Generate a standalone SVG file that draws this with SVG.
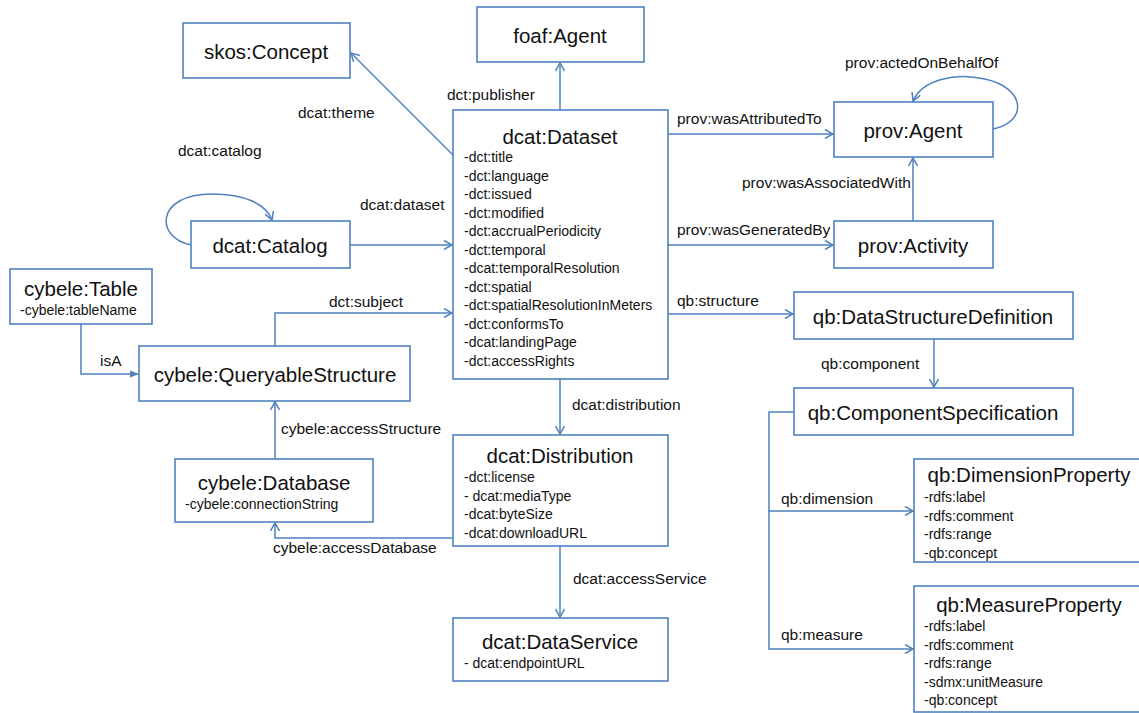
<svg xmlns="http://www.w3.org/2000/svg" width="1139" height="713" viewBox="0 0 1139 713">
<style>
.box{fill:#fff;stroke:#4F81BD;stroke-width:1.6}
.ln{fill:none;stroke:#4F81BD;stroke-width:1.5}
.t{font-family:"Liberation Sans",Arial,sans-serif;font-size:20.5px;fill:#111;text-anchor:middle;dominant-baseline:central}
.a{font-family:"Liberation Sans",Arial,sans-serif;font-size:14px;fill:#111;dominant-baseline:central}
.l{font-family:"Liberation Sans",Arial,sans-serif;font-size:15.5px;fill:#111;dominant-baseline:central}
</style>
<defs>
<marker id="open" viewBox="0 0 10 10" markerWidth="10" markerHeight="10" refX="9" refY="5" orient="auto" markerUnits="userSpaceOnUse">
<path d="M1,0.5 L9,5 L1,9.5" fill="none" stroke="#4F81BD" stroke-width="1.5"/>
</marker>
<marker id="filled" viewBox="0 0 10 10" markerWidth="9" markerHeight="9" refX="9" refY="5" orient="auto" markerUnits="userSpaceOnUse">
<path d="M0,1 L10,5 L0,9 Z" fill="#4F81BD"/>
</marker>
</defs>
<rect width="1139" height="713" fill="#fff"/>
<g id="connectors">
<path class="ln" d="M560,110 V63" marker-end="url(#open)"/>
<path class="ln" d="M453,155 L351,53" marker-end="url(#open)"/>
<path class="ln" d="M350,245 H452" marker-end="url(#open)"/>
<path class="ln" d="M191,245 C155,238 155,194 212,194 C245,194 266,204 272,220" marker-end="url(#open)"/>
<path class="ln" d="M668,134 H833" marker-end="url(#open)"/>
<path class="ln" d="M668,245 H833" marker-end="url(#open)"/>
<path class="ln" d="M913,221 V158" marker-end="url(#open)"/>
<path class="ln" d="M993,129 C1028,122 1026,88 985,79 C955,72 922,80 913,101" marker-end="url(#open)"/>
<path class="ln" d="M668,314 H793" marker-end="url(#open)"/>
<path class="ln" d="M934,339 V387" marker-end="url(#open)"/>
<path class="ln" d="M794,412 H769 V511 H913" marker-end="url(#open)"/>
<path class="ln" d="M769,511 V649 H913" marker-end="url(#open)"/>
<path class="ln" d="M560,379 V434" marker-end="url(#open)"/>
<path class="ln" d="M560,546 V617" marker-end="url(#open)"/>
<path class="ln" d="M453,538 H275 V523" marker-end="url(#open)"/>
<path class="ln" d="M275,459 V402" marker-end="url(#open)"/>
<path class="ln" d="M275,346 V313 H452" marker-end="url(#open)"/>
<path class="ln" d="M81,324 V374 H138" marker-end="url(#filled)"/>
<text class="l" x="298" y="112">dcat:theme</text>
<text class="l" x="178" y="150">dcat:catalog</text>
<text class="l" x="360" y="204">dcat:dataset</text>
<text class="l" x="447" y="94">dct:publisher</text>
<text class="l" x="845" y="62">prov:actedOnBehalfOf</text>
<text class="l" x="677" y="118">prov:wasAttributedTo</text>
<text class="l" x="742" y="182">prov:wasAssociatedWith</text>
<text class="l" x="677" y="229">prov:wasGeneratedBy</text>
<text class="l" x="677" y="300">qb:structure</text>
<text class="l" x="821" y="363">qb:component</text>
<text class="l" x="781" y="498">qb:dimension</text>
<text class="l" x="781" y="634">qb:measure</text>
<text class="l" x="329" y="301">dct:subject</text>
<text class="l" x="100" y="360">isA</text>
<text class="l" x="281" y="428">cybele:accessStructure</text>
<text class="l" x="273" y="547">cybele:accessDatabase</text>
<text class="l" x="572" y="404">dcat:distribution</text>
<text class="l" x="573" y="578">dcat:accessService</text>
</g>
<g id="skos-concept">
<rect class="box" x="183" y="23" width="167" height="55"/>
<text class="t" x="266" y="51">skos:Concept</text>
</g>
<g id="foaf-agent">
<rect class="box" x="477" y="7" width="167" height="55"/>
<text class="t" x="560" y="35">foaf:Agent</text>
</g>
<g id="dcat-catalog">
<rect class="box" x="191" y="221" width="159" height="47"/>
<text class="t" x="270" y="245">dcat:Catalog</text>
</g>
<g id="dcat-dataset">
<rect class="box" x="453" y="110" width="215" height="269"/>
<text class="t" x="560" y="136">dcat:Dataset</text>
<text class="a" x="464" y="157">-dct:title</text>
<text class="a" x="464" y="175.5">-dct:language</text>
<text class="a" x="464" y="194">-dct:issued</text>
<text class="a" x="464" y="212.5">-dct:modified</text>
<text class="a" x="464" y="231">-dct:accrualPeriodicity</text>
<text class="a" x="464" y="249.5">-dct:temporal</text>
<text class="a" x="464" y="268">-dcat:temporalResolution</text>
<text class="a" x="464" y="286.5">-dct:spatial</text>
<text class="a" x="464" y="305">-dct:spatialResolutionInMeters</text>
<text class="a" x="464" y="323.5">-dct:conformsTo</text>
<text class="a" x="464" y="342">-dcat:landingPage</text>
<text class="a" x="464" y="360.5">-dct:accessRights</text>
</g>
<g id="prov-agent">
<rect class="box" x="834" y="102" width="159" height="55"/>
<text class="t" x="913" y="130">prov:Agent</text>
</g>
<g id="prov-activity">
<rect class="box" x="834" y="221" width="159" height="47"/>
<text class="t" x="913" y="245">prov:Activity</text>
</g>
<g id="qb-dsd">
<rect class="box" x="794" y="292" width="279" height="47"/>
<text class="t" x="933" y="316">qb:DataStructureDefinition</text>
</g>
<g id="qb-componentspec">
<rect class="box" x="794" y="388" width="279" height="47"/>
<text class="t" x="933" y="412">qb:ComponentSpecification</text>
</g>
<g id="qb-dimensionproperty">
<rect class="box" x="914" y="459" width="240" height="103"/>
<text class="t" x="1029" y="474">qb:DimensionProperty</text>
<text class="a" x="924" y="497">-rdfs:label</text>
<text class="a" x="924" y="515.5">-rdfs:comment</text>
<text class="a" x="924" y="534">-rdfs:range</text>
<text class="a" x="924" y="552.5">-qb:concept</text>
</g>
<g id="qb-measureproperty">
<rect class="box" x="914" y="586" width="240" height="126"/>
<text class="t" x="1029" y="604">qb:MeasureProperty</text>
<text class="a" x="924" y="626">-rdfs:label</text>
<text class="a" x="924" y="644.5">-rdfs:comment</text>
<text class="a" x="924" y="663">-rdfs:range</text>
<text class="a" x="924" y="681.5">-sdmx:unitMeasure</text>
<text class="a" x="924" y="700">-qb:concept</text>
</g>
<g id="cybele-table">
<rect class="box" x="10" y="269" width="142" height="55"/>
<text class="t" x="81" y="288">cybele:Table</text>
<text class="a" x="20" y="310">-cybele:tableName</text>
</g>
<g id="cybele-queryablestructure">
<rect class="box" x="139" y="346" width="271" height="55"/>
<text class="t" x="275" y="374">cybele:QueryableStructure</text>
</g>
<g id="cybele-database">
<rect class="box" x="175" y="459" width="198" height="63"/>
<text class="t" x="274" y="482">cybele:Database</text>
<text class="a" x="185" y="504">-cybele:connectionString</text>
</g>
<g id="dcat-distribution">
<rect class="box" x="453" y="435" width="215" height="111"/>
<text class="t" x="560" y="455">dcat:Distribution</text>
<text class="a" x="464" y="477">-dct:license</text>
<text class="a" x="464" y="495.5">- dcat:mediaType</text>
<text class="a" x="464" y="514">-dcat:byteSize</text>
<text class="a" x="464" y="532.5">-dcat:downloadURL</text>
</g>
<g id="dcat-dataservice">
<rect class="box" x="453" y="618" width="215" height="63"/>
<text class="t" x="560" y="641">dcat:DataService</text>
<text class="a" x="464" y="663">- dcat:endpointURL</text>
</g>
</svg>
